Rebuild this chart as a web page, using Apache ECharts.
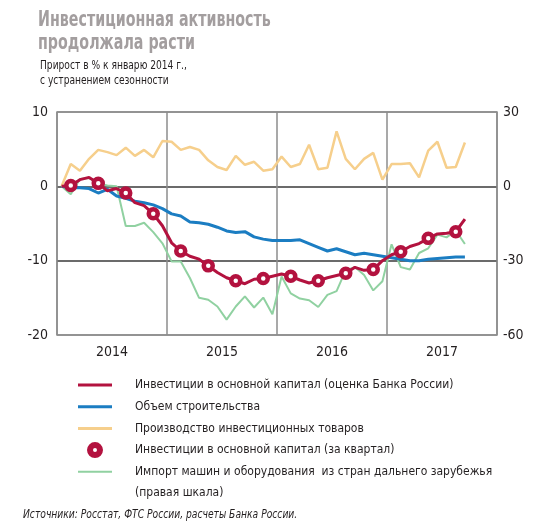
<!DOCTYPE html>
<html>
<head>
<meta charset="utf-8">
<script src="https://cdn.jsdelivr.net/npm/echarts@6/dist/echarts.min.js"></script>
<style>
html,body{margin:0;padding:0;background:#fff;}
#chart{width:550px;height:532px;}
</style>
</head>
<body>
<div id="chart"></div>
<script>
// ---- data ----
const years = ['2014', '2015', '2016', '2017'];
const months = years.flatMap(y => Array.from({length: 12}, (_, m) => y + '-' + String(m + 1).padStart(2, '0')));

// Investment in fixed capital (Bank of Russia estimate), monthly, left axis
const investMonthly = [
  0, 0.1, 0.9, 1.2, 0.4, -0.6, -0.3, -0.9, -2.2, -2.6, -3.7, -5.3,
  -7.6, -8.7, -9.4, -9.8, -10.7, -11.6, -12.3, -12.7, -13.1, -12.5, -12.4, -12.1,
  -11.8, -12.1, -12.6, -13.0, -12.7, -12.3, -12.0, -11.7, -10.9, -11.3, -11.2, -10.0,
  -9.2, -8.8, -8.1, -7.7, -7.0, -6.4, -6.3, -6.1, -4.4
];
// Construction volume, left axis
const construction = [
  0, -0.2, -0.2, -0.3, -0.9, -0.4, -1.3, -1.6, -2.0, -2.2, -2.5, -3.0,
  -3.7, -4.0, -4.8, -4.9, -5.1, -5.5, -6.0, -6.2, -6.1, -6.8, -7.1, -7.3,
  -7.3, -7.3, -7.2, -7.7, -8.2, -8.7, -8.4, -8.8, -9.2, -9.0, -9.2, -9.4,
  -9.6, -9.8, -10.0, -10.0, -9.8, -9.7, -9.6, -9.5, -9.5
];
// Production of investment goods, left axis
const invGoods = [
  0, 3.0, 2.1, 3.7, 4.9, 4.6, 4.2, 5.2, 4.1, 4.9, 3.9, 6.1,
  6.0, 4.9, 5.3, 4.9, 3.5, 2.6, 2.2, 4.1, 2.9, 3.3, 2.1, 2.3,
  4.0, 2.6, 3.0, 5.6, 2.3, 2.5, 7.4, 3.7, 2.3, 3.7, 4.5, 0.9,
  3.0, 3.0, 3.1, 1.2, 4.8, 6.0, 2.5, 2.6, 5.9
];
// Investment in fixed capital, quarterly (Q1 2014 .. Q3 2017), left axis
const investQuarterly = [0.1, 0.4, -0.9, -3.7, -8.7, -10.7, -12.7, -12.4, -12.1, -12.7, -11.7, -11.2, -8.8, -7.0, -6.1];
// Imports of machinery and equipment from non-CIS countries, right axis
const imports = [
  0, -3.2, 3.0, 3.4, 1.2, 0.3, 0, -16.0, -16.0, -14.7, -18.5, -23.0,
  -30.3, -30.3, -37.0, -45.0, -45.8, -48.5, -53.8, -48.5, -44.4, -48.9, -44.9, -51.6,
  -36.4, -43.2, -45.3, -46.0, -48.7, -43.8, -42.3, -33.8, -32.6, -35.8, -42.0, -38.3,
  -23.4, -32.6, -33.6, -26.9, -25.0, -19.5, -20.6, -17.8, -23.3
];

const names = [
  'Инвестиции в основной капитал (оценка Банка России)',
  'Объем строительства',
  'Производство инвестиционных товаров',
  'Инвестиции в основной капитал (за квартал)',
  'Импорт машин и оборудования  из стран дальнего зарубежья'
];

// ---- style ----
const FONT = '"Liberation Sans Narrow", "DejaVu Sans Condensed", sans-serif';
const TXT = '#231f20';
const RED = '#b3123f', BLUE = '#1b7dc2', YEL = '#f6cf8c', GRN = '#90d1a1';

const chart = echarts.init(document.getElementById('chart'), null, {renderer: 'canvas'});
chart.setOption({
  animation: false,
  backgroundColor: '#fff',
  textStyle: {fontFamily: FONT},
  grid: {left: 57, right: 53, top: 112, bottom: 197, show: true, borderColor: '#8c8c8c', borderWidth: 1.5},
  legend: {
    orient: 'vertical', left: 78, top: 376, padding: 0,
    itemWidth: 34, itemHeight: 10, itemGap: 3.7,
    textStyle: {fontFamily: FONT, fontSize: 12, color: TXT, lineHeight: 18, padding: [0, 0, 0, 18]},
    data: [
      {name: names[0], icon: 'path://M0,0H34V3H0Z'},
      {name: names[1], icon: 'path://M0,0H34V3H0Z'},
      {name: names[2], icon: 'path://M0,0H34V3H0Z'},
      {name: names[3], icon: 'circle', itemStyle: {color: '#fff', borderColor: RED, borderWidth: 6}},
      {name: names[4], icon: 'path://M0,0H34V2H0Z'}
    ]
  },
  graphic: [
    {type: 'text', x: 38, y: 20, scaleX: 0.72,
      style: {text: 'Инвестиционная активность', font: 'bold 22px ' + FONT, fill: '#a39e9f', verticalAlign: 'middle'}},
    {type: 'text', x: 38, y: 43, scaleX: 0.72,
      style: {text: 'продолжала расти', font: 'bold 22px ' + FONT, fill: '#a39e9f', verticalAlign: 'middle'}},
    {type: 'text', x: 40, y: 66, scaleX: 0.78,
      style: {text: 'Прирост в % к январю 2014 г.,', font: '13px ' + FONT, fill: TXT, verticalAlign: 'middle'}},
    {type: 'text', x: 40, y: 81, scaleX: 0.78,
      style: {text: 'с устранением сезонности', font: '13px ' + FONT, fill: TXT, verticalAlign: 'middle'}},
    {type: 'text', x: 135, y: 493,
      style: {text: '(правая шкала)', font: '12px ' + FONT, fill: TXT, verticalAlign: 'middle'}},
    {type: 'text', x: 23, y: 515, scaleX: 0.785,
      style: {text: 'Источники: Росстат, ФТС России, расчеты Банка России.', font: 'italic 13px ' + FONT, fill: TXT, verticalAlign: 'middle'}}
  ],
  xAxis: [
    {type: 'category', data: months, show: false, boundaryGap: true},
    {type: 'category', data: years, position: 'bottom', boundaryGap: true,
      axisLine: {show: false}, axisTick: {show: false},
      axisLabel: {fontFamily: FONT, fontSize: 14, color: TXT, margin: 10},
      splitLine: {show: true, interval: 0, lineStyle: {color: '#8c8c8c', width: 1.5}}}
  ],
  yAxis: [
    {type: 'value', min: -20, max: 10, interval: 10,
      axisLine: {show: false}, axisTick: {show: false},
      axisLabel: {fontFamily: FONT, fontSize: 14, color: TXT, margin: 9},
      splitLine: {show: true, lineStyle: {color: ['#8c8c8c', '#3a3a3a', '#3a3a3a', '#8c8c8c'], width: 1.5}}},
    {type: 'value', min: -60, max: 30, interval: 30, position: 'right',
      axisLine: {show: false}, axisTick: {show: false},
      axisLabel: {fontFamily: FONT, fontSize: 14, color: TXT, margin: 6},
      splitLine: {show: false}}
  ],
  series: [
    {name: names[0], type: 'line', xAxisIndex: 0, yAxisIndex: 0, data: investMonthly, symbol: 'none', z: 4,
      lineStyle: {color: RED, width: 3}, itemStyle: {color: RED}},
    {name: names[1], type: 'line', xAxisIndex: 0, yAxisIndex: 0, data: construction, symbol: 'none', z: 3,
      lineStyle: {color: BLUE, width: 3}, itemStyle: {color: BLUE}},
    {name: names[2], type: 'line', xAxisIndex: 0, yAxisIndex: 0, data: invGoods, symbol: 'none', z: 3,
      lineStyle: {color: YEL, width: 2.5}, itemStyle: {color: YEL}},
    {name: names[3], type: 'scatter', xAxisIndex: 0, yAxisIndex: 0, z: 6,
      data: investQuarterly.map((v, q) => [months[1 + 3 * q], v]),
      symbol: 'circle', symbolSize: 9,
      itemStyle: {color: '#fff', borderColor: RED, borderWidth: 4.5, opacity: 1}},
    {name: names[4], type: 'line', xAxisIndex: 0, yAxisIndex: 1, data: imports, symbol: 'none', z: 2,
      lineStyle: {color: GRN, width: 2}, itemStyle: {color: GRN}}
  ]
});
</script>
</body>
</html>
